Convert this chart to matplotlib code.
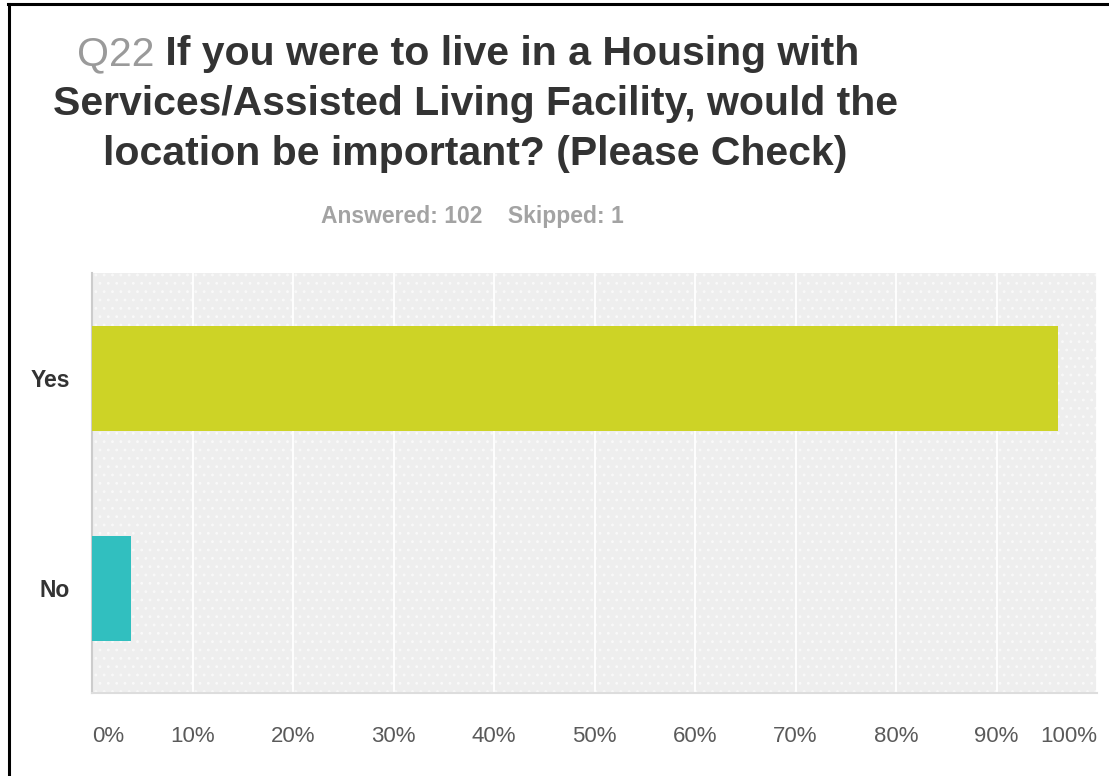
import matplotlib
matplotlib.use("Agg")
import matplotlib.pyplot as plt
from matplotlib.lines import Line2D

# survey answers (percent of 102 respondents)
categories = ["Yes", "No"]
percents = [96.08, 3.92]
bar_colors = ["#cdd326", "#31bfbf"]
tick_values = [0, 10, 20, 30, 40, 50, 60, 70, 80, 90, 100]
tick_labels = ["0%", "10%", "20%", "30%", "40%", "50%", "60%", "70%", "80%", "90%", "100%"]

plt.rcParams["font.family"] = ["Liberation Sans", "DejaVu Sans"]
plt.rcParams["hatch.linewidth"] = 0.8

W, H = 1109, 776
fig = plt.figure(figsize=(W / 100, H / 100), dpi=100)

# plot area in pixels: x 92..1097, y 273..693
ax = fig.add_axes([92 / W, 1 - 693 / H, (1097 - 92) / W, (693 - 273) / H])
ax.set_facecolor("#eeeeee")
ax.patch.set_hatch("..")
ax.patch.set_edgecolor("#f9f9f9")
ax.patch.set_linewidth(0)

ypos = list(range(len(categories)))
ax.barh(ypos, percents, height=0.5, color=bar_colors, zorder=3)

ax.set_xlim(0, 100)
ax.set_ylim(len(categories) - 0.5, -0.5)
ax.set_xticks(tick_values)
ax.set_xticklabels(tick_labels, fontsize=16, color="#5a5a5a")
labels = ax.get_xticklabels()
labels[0].set_ha("left")
labels[-1].set_ha("right")
ax.set_yticks(ypos)
ax.set_yticklabels(categories, fontsize=16.5, fontweight="bold", color="#333333")
ax.tick_params(axis="x", length=0, pad=24)
ax.tick_params(axis="y", length=0, pad=16)
ax.grid(axis="x", color="white", linewidth=1.3, zorder=1)
ax.set_axisbelow(True)
for side in ["top", "right"]:
    ax.spines[side].set_visible(False)
ax.spines["left"].set_color("#cccccc")
ax.spines["bottom"].set_color("#dddddd")
ax.spines["left"].set_linewidth(1.5)
ax.spines["bottom"].set_linewidth(1.5)

# title: grey question number, then bold question text
title_kw = dict(fontsize=29.5, fontweight="bold", color="#333333", va="baseline")
q = fig.text(77 / W, 1 - 65 / H, "Q22", fontsize=29.5, color="#9a9a9a", va="baseline")
fig.canvas.draw()
bb = q.get_window_extent()
fig.text(bb.x1 / W, 1 - 65 / H, " If you were to live in a Housing with", **title_kw)
fig.text(475 / W, 1 - 115 / H, "Services/Assisted Living Facility, would the", ha="center", **title_kw)
fig.text(475 / W, 1 - 165 / H, "location be important? (Please Check)", ha="center", **title_kw)

fig.text(472 / W, 1 - 223 / H, "Answered: 102    Skipped: 1", ha="center", va="baseline",
         fontsize=16.5, fontweight="bold", color="#a3a3a3")

# frame lines on the left and top of the screenshot
fig.add_artist(Line2D([9 / W, 9 / W], [0, 1 - 4 / H], color="black", linewidth=2.2))
fig.add_artist(Line2D([8 / W, 1], [1 - 4 / H, 1 - 4 / H], color="black", linewidth=2.2))

fig.savefig("out.png", dpi=100, facecolor="white")
